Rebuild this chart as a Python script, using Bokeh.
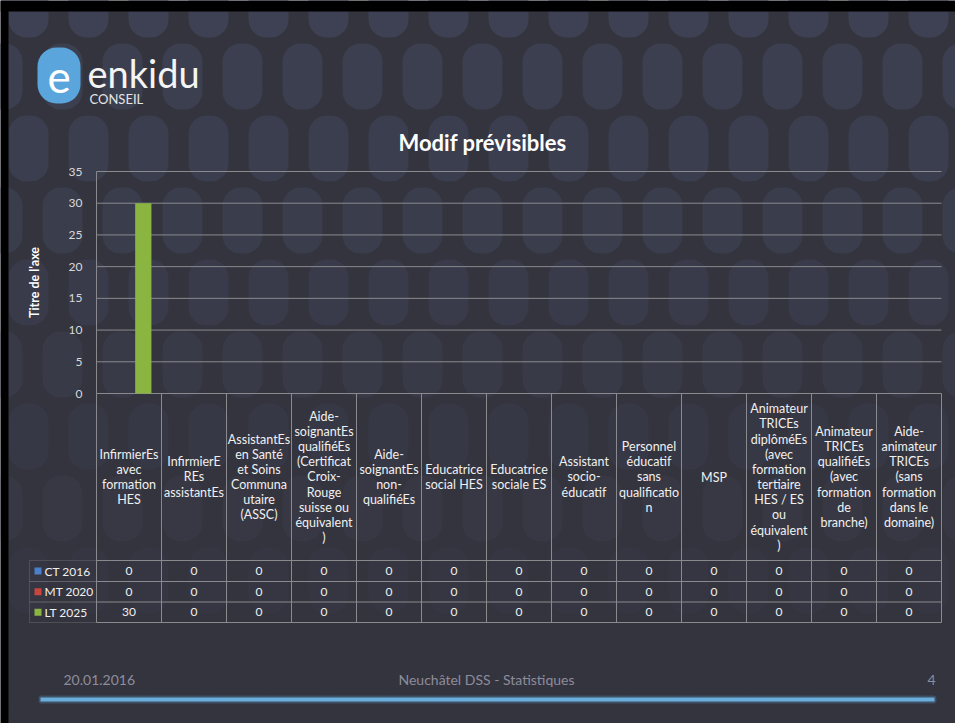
import math
from bokeh.plotting import figure
from bokeh.models import Range1d, ColumnDataSource, FixedTicker, Label, BoxAnnotation
from bokeh.transform import dodge
from bokeh.core.properties import value
from bokeh.embed import file_html
from bokeh.resources import INLINE

# ---------------- data ----------------
categories = [
    "InfirmierEs\navec\nformation\nHES",
    "InfirmierE\nREs\nassistantEs",
    "AssistantEs\nen Santé\net Soins\nCommuna\nutaire\n(ASSC)",
    "Aide-\nsoignantEs\nqualifiéEs\n(Certificat\nCroix-\nRouge\nsuisse ou\néquivalent\n)",
    "Aide-\nsoignantEs\nnon-\nqualifiéEs",
    "Educatrice\nsocial HES",
    "Educatrice\nsociale ES",
    "Assistant\nsocio-\néducatif",
    "Personnel\néducatif\nsans\nqualificatio\nn",
    "MSP",
    "Animateur\nTRICEs\ndiplôméEs\n(avec\nformation\ntertiaire\nHES / ES\nou\néquivalent\n)",
    "Animateur\nTRICEs\nqualifiéEs\n(avec\nformation\nde\nbranche)",
    "Aide-\nanimateur\nTRICEs\n(sans\nformation\ndans le\ndomaine)",
]
series_names = ["CT 2016", "MT 2020", "LT 2025"]
ct_2016 = [0, 0, 0, 0, 0, 0, 0, 0, 0, 0, 0, 0, 0]
mt_2020 = [0, 0, 0, 0, 0, 0, 0, 0, 0, 0, 0, 0, 0]
lt_2025 = [30, 0, 0, 0, 0, 0, 0, 0, 0, 0, 0, 0, 0]
series_colors = ["#4a7fc9", "#c8463f", "#8ab540"]
y_ticks = [0, 5, 10, 15, 20, 25, 30, 35]
chart_title = "Modif prévisibles"
y_axis_title = "Titre de l'axe"
footer_date = "20.01.2016"
footer_center = "Neuchâtel DSS - Statistiques"
footer_page = "4"

# ---------------- layout (page pixels) ----------------
W, H = 955, 723
FL, FR = 96, 941          # plot area left/right
Y0, YTOP = 393, 171       # pixel rows of value 0 and value 35
YMAX = 35
ppu = (Y0 - YTOP) / YMAX
col_w = (FR - FL) / len(categories)


def ux(px):
    return (px - FL) / col_w


def uy(py):
    return (Y0 - py) / ppu


BG = "#34343e"
GRID = "#8a8a8e"
TXT = "#f0f0f0"
FONT = "Lato"

p = figure(
    width=W, height=H,
    x_range=Range1d(ux(0), ux(W)), y_range=Range1d(uy(H), uy(0)),
    output_backend="svg", toolbar_location=None,
    min_border_left=0, min_border_right=0, min_border_top=0, min_border_bottom=0,
)
p.background_fill_color = BG
p.border_fill_color = BG
p.outline_line_color = None
p.xaxis.visible = False
p.xgrid.visible = False
p.ygrid.visible = False

# background pattern (decorative)
for r in range(11):
    cy = 4 + 72 * r
    x_start = 28 if r % 2 == 0 else 2
    alpha = max(0.95 - 0.1 * r, 0.06)
    for k in range(17):
        cx = x_start + 60 * k
        p.add_layout(BoxAnnotation(left=ux(cx - 20), right=ux(cx + 20), top=uy(cy - 33), bottom=uy(cy + 33),
                                   border_radius=18, fill_color="#3e4254", fill_alpha=alpha,
                                   line_color=None, level="image"))

# black border strips
p.add_layout(BoxAnnotation(left=ux(0), right=ux(W), top=uy(0), bottom=uy(11), fill_color="black",
                           fill_alpha=1, line_color=None, level="image"))
p.add_layout(BoxAnnotation(left=ux(0), right=ux(8), top=uy(0), bottom=uy(H), fill_color="black",
                           fill_alpha=1, line_color=None, level="image"))

# y axis pinned at the plot-area edge
p.yaxis.fixed_location = 0
p.yaxis.bounds = (0, YMAX)
p.yaxis.ticker = FixedTicker(ticks=y_ticks)
p.yaxis.axis_line_color = GRID
p.yaxis.major_tick_line_color = None
p.yaxis.minor_tick_line_color = None
p.yaxis.major_label_text_color = "#d9d9d9"
p.yaxis.major_label_text_font = FONT
p.yaxis.major_label_text_font_size = "12px"
p.yaxis.major_label_standoff = 8
p.yaxis.axis_label = y_axis_title
p.yaxis.axis_label_text_color = "white"
p.yaxis.axis_label_text_font = FONT
p.yaxis.axis_label_text_font_style = "bold"
p.yaxis.axis_label_text_font_size = "12.5px"
p.yaxis.axis_label_standoff = 24

n = len(categories)
positions = [i + 0.5 for i in range(n)]

# gridlines
p.segment(x0=0, x1=n, y0=y_ticks, y1=y_ticks, line_color=GRID, line_width=1)

source = ColumnDataSource(dict(x=positions, cat=categories, ct=ct_2016, mt=mt_2020, lt=lt_2025))
offsets = [-0.23, 0.0, 0.22]
for key, off, color in zip(["ct", "mt", "lt"], offsets, series_colors):
    p.vbar(x=dodge("x", off), top=key, bottom=0, width=0.25, source=source,
           fill_color=color, line_color=None)

# ---------------- data table ----------------
row_lines = [560, 581, 601.5, 622]
for py in row_lines:
    p.segment(x0=0, x1=n, y0=uy(py), y1=uy(py), line_color=GRID, line_width=1)
for k in range(0, n + 1):
    p.segment(x0=k, x1=k, y0=0, y1=uy(row_lines[-1]), line_color=GRID, line_width=1)

p.text(x="x", y=uy(476.5), text="cat", source=source,
       text_align="center", text_baseline="middle", text_color=TXT,
       text_font=value(FONT), text_font_size="12.5px", text_line_height=1.01)

series_vals = [ct_2016, mt_2020, lt_2025]
for i, vals in enumerate(series_vals):
    cy = (row_lines[i] + row_lines[i + 1]) / 2
    p.text(x=positions, y=[uy(cy)] * n, text=[str(v) for v in vals],
           text_align="center", text_baseline="middle", text_color=TXT,
           text_font=value(FONT), text_font_size="12px")
    # legend column
    p.add_layout(BoxAnnotation(left=ux(29), right=0, top=uy(row_lines[i]), bottom=uy(row_lines[i + 1]),
                               fill_color=None, line_color=GRID, line_width=1))
    p.add_layout(BoxAnnotation(left=ux(34), right=ux(41), top=uy(cy - 3.5), bottom=uy(cy + 3.5),
                               fill_color=series_colors[i], fill_alpha=1, line_color=None))
    p.add_layout(Label(x=ux(44), y=uy(cy), text=series_names[i], text_baseline="middle",
                       text_color=TXT, text_font=FONT, text_font_size="12px"))

# ---------------- title ----------------
p.add_layout(Label(x=ux(482), y=uy(142), text=chart_title, text_align="center", text_baseline="middle",
                   text_color="white", text_font=FONT, text_font_style="bold", text_font_size="22px"))

# ---------------- logo ----------------
p.add_layout(BoxAnnotation(left=ux(37), right=ux(80), top=uy(47), bottom=uy(103), border_radius=19,
                           fill_color="#5aa6dc", fill_alpha=1, line_color=None))
p.add_layout(Label(x=ux(58.5), y=uy(76), text="e", text_align="center", text_baseline="middle",
                   text_color="white", text_font=FONT, text_font_size="44px"))
p.add_layout(Label(x=ux(87), y=uy(72), text="enkidu", text_baseline="middle",
                   text_color="#f4f4f4", text_font=FONT, text_font_size="38px"))
p.add_layout(Label(x=ux(89), y=uy(98), text="CONSEIL", text_baseline="middle",
                   text_color="#e4e4e4", text_font=FONT, text_font_size="13px"))

# ---------------- footer ----------------
FOOT = "#8d8d9b"
p.add_layout(Label(x=ux(63), y=uy(679), text=footer_date, text_baseline="middle",
                   text_color=FOOT, text_font=FONT, text_font_size="14px"))
p.add_layout(Label(x=ux(486), y=uy(679), text=footer_center, text_align="center", text_baseline="middle",
                   text_color=FOOT, text_font=FONT, text_font_size="14px"))
p.add_layout(Label(x=ux(935), y=uy(679), text=footer_page, text_align="right", text_baseline="middle",
                   text_color=FOOT, text_font=FONT, text_font_size="14px"))
p.add_layout(BoxAnnotation(left=ux(38), right=ux(936), top=uy(695), bottom=uy(703), border_radius=3,
                           fill_color="#5aa6dc", fill_alpha=0.25, line_color=None))
p.add_layout(BoxAnnotation(left=ux(40), right=ux(934), top=uy(697), bottom=uy(701),
                           fill_color="#6aaedc", fill_alpha=1, line_color=None))

open("out.html", "w").write(file_html(p, INLINE))
